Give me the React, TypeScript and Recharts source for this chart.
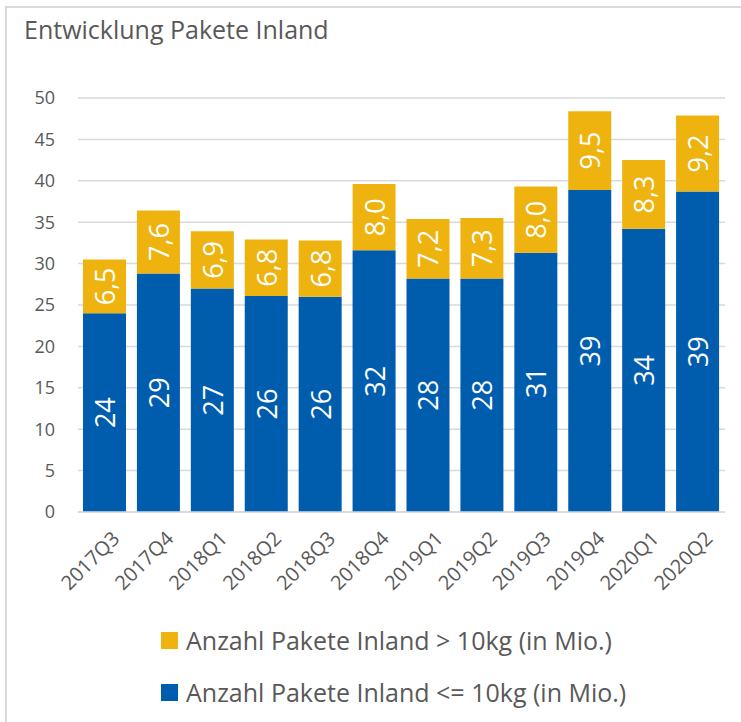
import { Bar, BarChart, CartesianGrid, LabelList, Legend, XAxis, YAxis } from 'recharts';

const quartale = ['2017Q3', '2017Q4', '2018Q1', '2018Q2', '2018Q3', '2018Q4', '2019Q1', '2019Q2', '2019Q3', '2019Q4', '2020Q1', '2020Q2'];
const bis10kg = [24.0, 28.8, 27.0, 26.1, 26.0, 31.6, 28.2, 28.2, 31.3, 38.9, 34.2, 38.7];
const ueber10kg = [6.5, 7.6, 6.9, 6.8, 6.8, 8.0, 7.2, 7.3, 8.0, 9.5, 8.3, 9.2];
const yTicks = [0, 5, 10, 15, 20, 25, 30, 35, 40, 45, 50];

const BLAU = '#005DAE';
const GELB = '#EFB30F';
const GRAU = '#595959';
const FONT = '"Open Sans", sans-serif';

const data = quartale.map((q, i) => ({ q, klein: bis10kg[i], gross: ueber10kg[i] }));

const BarLabel = (fmt: (v: number) => string) => (props: any) => {
  const { x, y, width, height, value } = props;
  const cx = x + width / 2;
  const cy = y + height / 2;
  return (
    <text
      x={cx}
      y={cy}
      transform={`rotate(-90 ${cx} ${cy})`}
      textAnchor="middle"
      dominantBaseline="central"
      fill="#fff"
      fontSize={27}
      fontFamily={FONT}
    >
      {fmt(value)}
    </text>
  );
};

const XTick = (props: any) => {
  const { x, y, payload } = props;
  return (
    <g transform={`translate(${x + 6},${y + 10})`}>
      <text textAnchor="end" dy="0.7em" transform="rotate(-45)" fill={GRAU} fontSize={20} fontFamily={FONT}>
        {payload.value}
      </text>
    </g>
  );
};

const legendItems = [
  { name: 'Anzahl Pakete Inland > 10kg (in Mio.)', color: GELB },
  { name: 'Anzahl Pakete Inland <= 10kg (in Mio.)', color: BLAU },
];

const LegendContent = () => (
  <div style={{ fontFamily: FONT, color: GRAU, fontSize: 25 }}>
    {legendItems.map((it) => (
      <div key={it.name} style={{ display: 'flex', alignItems: 'center', height: 52 }}>
        <span style={{ width: 17, height: 17, background: it.color, marginRight: 8 }} />
        <span>{it.name}</span>
      </div>
    ))}
  </div>
);

export default function App() {
  return (
    <div style={{ position: 'fixed', left: 0, top: 0, width: 741, height: 722, overflow: 'hidden', background: '#fff' }}>
      <div
        style={{
          position: 'absolute',
          left: 5,
          top: 6,
          width: 800,
          height: 800,
          border: '2px solid #d9d9d9',
        }}
      />
      <div
        style={{
          position: 'absolute',
          left: 24,
          top: 12,
          fontFamily: FONT,
          fontSize: 25,
          color: GRAU,
        }}
      >
        Entwicklung Pakete Inland
      </div>
      <div style={{ position: 'absolute', left: 0, top: 0 }}>
        <BarChart
          width={741}
          height={722}
          data={data}
          margin={{ top: 98, right: 16, bottom: 0, left: 0 }}
          barSize={43}
        >
          <CartesianGrid vertical={false} stroke="#d9d9d9" strokeWidth={1.5} />
          <XAxis
            dataKey="q"
            height={210}
            axisLine={{ stroke: '#d9d9d9', strokeWidth: 1.5 }}
            tickLine={false}
            tick={<XTick />}
            interval={0}
          />
          <YAxis
            width={78}
            domain={[0, 50]}
            ticks={yTicks}
            axisLine={false}
            tickLine={false}
            tickMargin={17}
            tick={{ fill: GRAU, fontSize: 18, fontFamily: FONT }}
          />
          <Legend
            verticalAlign="middle"
            align="center"
            layout="horizontal"
            content={<LegendContent />}
            wrapperStyle={{ position: 'absolute', top: 614, left: 161, width: 570 }}
          />
          <Bar dataKey="klein" stackId="a" fill={BLAU} isAnimationActive={false}>
            <LabelList dataKey="klein" content={BarLabel((v) => String(Math.round(v)))} />
          </Bar>
          <Bar dataKey="gross" stackId="a" fill={GELB} isAnimationActive={false}>
            <LabelList dataKey="gross" content={BarLabel((v) => v.toFixed(1).replace('.', ','))} />
          </Bar>
        </BarChart>
      </div>
    </div>
  );
}
